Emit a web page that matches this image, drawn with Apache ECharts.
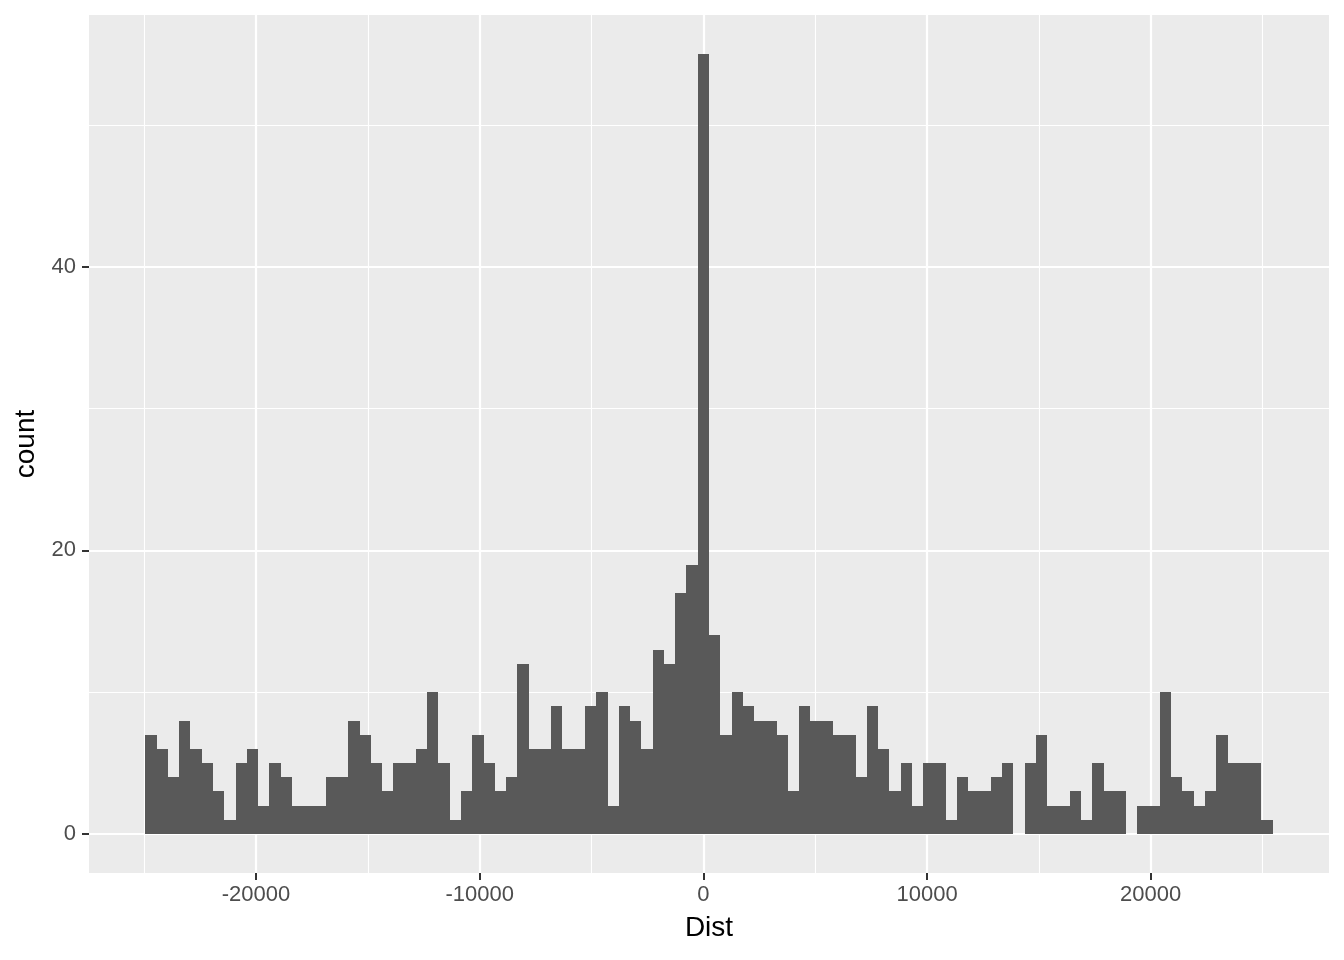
<!DOCTYPE html>
<html>
<head>
<meta charset="utf-8">
<script src="https://cdn.jsdelivr.net/npm/echarts@6/dist/echarts.min.js"></script>
<style>
  html, body { margin: 0; padding: 0; background: #fff; }
</style>
</head>
<body>
<div id="histDraw" style="width:1344px;height:960px;"></div>
<script>
// histogram of Dist, 100 bins of equal width, first bin starting at binStart
var binStart = -24948;
var binWidth = 504;
var counts = [
  7, 6, 4, 8, 6, 5, 3, 1, 5, 6,
  2, 5, 4, 2, 2, 2, 4, 4, 8, 7,
  5, 3, 5, 5, 6, 10, 5, 1, 3, 7,
  5, 3, 4, 12, 6, 6, 9, 6, 6, 9,
  10, 2, 9, 8, 6, 13, 12, 17, 19, 55,
  14, 7, 10, 9, 8, 8, 7, 3, 9, 8,
  8, 7, 7, 4, 9, 6, 3, 5, 2, 5,
  5, 1, 4, 3, 3, 4, 5, 0, 5, 7,
  2, 2, 3, 1, 5, 3, 3, 0, 2, 2,
  10, 4, 3, 2, 3, 7, 5, 5, 5, 1
];
var xMajor = [-20000, -10000, 0, 10000, 20000];
var xMinor = [-25000, -15000, -5000, 5000, 15000, 25000];
var yMajor = [0, 20, 40];
var yMinor = [10, 30, 50];

// ggplot style 5% expansion on both ends
var xLo = binStart, xHi = binStart + counts.length * binWidth;
var xPad = (xHi - xLo) * 0.05;
var yTop = Math.max.apply(null, counts);
var yPad = yTop * 0.05;

var barData = counts.map(function (c, i) {
  return [binStart + i * binWidth, binStart + (i + 1) * binWidth, c];
});

var myChart = echarts.init(document.getElementById("histDraw"));
var plainNum = function (v) { return String(v); };
var tickText = { color: "#4D4D4D", fontSize: 22, fontFamily: "Liberation Sans", formatter: plainNum };
var titleText = { color: "#000000", fontSize: 28, fontFamily: "Liberation Sans" };

myChart.setOption({
  animation: false,
  backgroundColor: "#FFFFFF",
  grid: {
    left: 89,
    right: 15,
    top: 15,
    bottom: 87,
    show: true,
    backgroundColor: "#EBEBEB",
    borderWidth: 0,
  },
  xAxis: [
    {
      type: "value",
      min: xLo - xPad,
      max: xHi + xPad,
      name: "Dist",
      nameLocation: "middle",
      nameGap: 41,
      nameTextStyle: titleText,
      axisLine: { show: false, onZero: false },
      axisTick: { show: true, customValues: xMajor, length: 7, lineStyle: { color: "#333333", width: 2 } },
      axisLabel: Object.assign({ customValues: xMajor, margin: 11 }, tickText),
      splitLine: { show: true, lineStyle: { color: "#FFFFFF", width: 2.2 } },
    },
    {
      // minor grid lines only
      type: "value",
      position: "bottom",
      min: xLo - xPad,
      max: xHi + xPad,
      axisLine: { show: false, onZero: false },
      axisTick: { show: false, customValues: xMinor },
      axisLabel: { show: false, customValues: xMinor },
      splitLine: { show: true, lineStyle: { color: "#FFFFFF", width: 1.1 } },
    },
  ],
  yAxis: [
    {
      type: "value",
      min: -yPad,
      max: yTop + yPad,
      name: "count",
      nameLocation: "middle",
      nameGap: 46,
      nameRotate: 90,
      nameTextStyle: titleText,
      axisLine: { show: false, onZero: false },
      axisTick: { show: true, customValues: yMajor, length: 7, lineStyle: { color: "#333333", width: 2 } },
      axisLabel: Object.assign({ customValues: yMajor, margin: 13 }, tickText),
      splitLine: { show: true, lineStyle: { color: "#FFFFFF", width: 2.2 } },
    },
    {
      type: "value",
      position: "left",
      min: -yPad,
      max: yTop + yPad,
      axisLine: { show: false, onZero: false },
      axisTick: { show: false, customValues: yMinor },
      axisLabel: { show: false, customValues: yMinor },
      splitLine: { show: true, lineStyle: { color: "#FFFFFF", width: 1.1 } },
    },
  ],
  series: [
    {
      type: "custom",
      xAxisIndex: 0,
      yAxisIndex: 0,
      encode: { x: [0, 1], y: 2 },
      data: barData,
      renderItem: function (params, api) {
        if (api.value(2) <= 0) return;
        var p0 = api.coord([api.value(0), api.value(2)]);
        var p1 = api.coord([api.value(1), 0]);
        // snap to whole pixels so neighbouring bars meet without seams
        var x0 = Math.round(p0[0]), x1 = Math.round(p1[0]);
        var y0 = Math.round(p0[1]), y1 = Math.round(p1[1]);
        return {
          type: "rect",
          shape: { x: x0, y: y0, width: x1 - x0, height: y1 - y0 },
          style: { fill: "#595959" },
        };
      },
    },
  ],
});
</script>
</body>
</html>
